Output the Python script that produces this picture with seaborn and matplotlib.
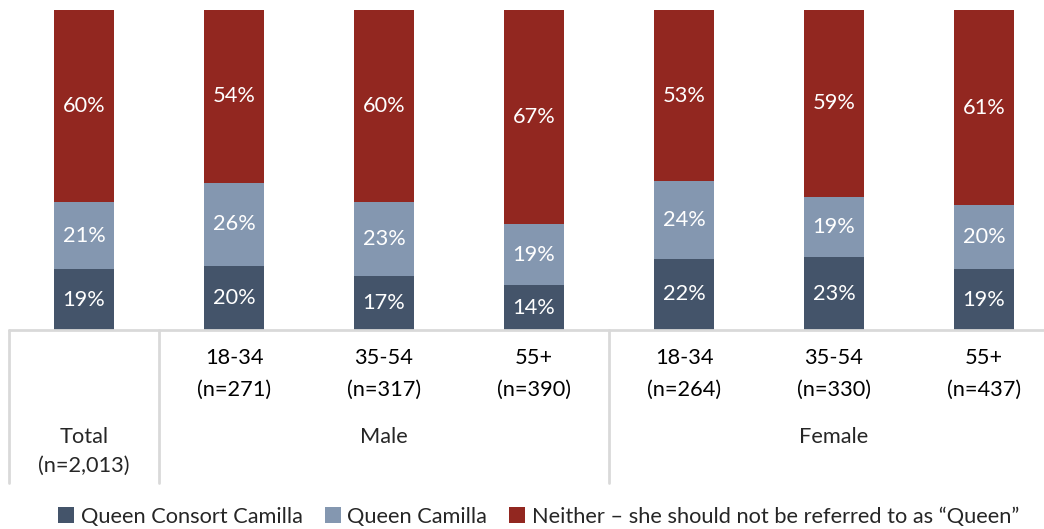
import matplotlib
matplotlib.use("Agg")
import matplotlib.pyplot as plt
import matplotlib.transforms as mtransforms
from matplotlib.patches import Patch
import numpy as np
import pandas as pd
import seaborn as sns

# Survey breakdown: how should Camilla be referred to?
categories = ["Total", "M 18-34", "M 35-54", "M 55+", "F 18-34", "F 35-54", "F 55+"]
age_labels = ["", "18-34", "35-54", "55+", "18-34", "35-54", "55+"]
sample_labels = ["", "(n=271)", "(n=317)", "(n=390)", "(n=264)", "(n=330)", "(n=437)"]
consort = [19, 20, 17, 14, 22, 23, 19]
queen = [21, 26, 23, 19, 24, 19, 20]
neither = [60, 54, 60, 67, 53, 59, 61]
series_names = ["Queen Consort Camilla", "Queen Camilla",
                "Neither \u2013 she should not be referred to as \u201cQueen\u201d"]
group_labels = ["Male", "Female"]
total_label = "Total\n(n=2,013)"

colors = ["#44546A", "#8497B0", "#922720"]
grid_gray = "#D9D9D9"
FS = 15.7

sns.set_theme(style="white")
plt.rcParams["font.family"] = ["Lato", "DejaVu Sans"]

df = pd.DataFrame({"cat": categories, "consort": consort,
                   "queen": queen, "neither": neither})
# 100% stacked: each bar is scaled to its own total
tot = df["consort"] + df["queen"] + df["neither"]
df["c1"] = df["consort"] / tot * 100
df["c2"] = (df["consort"] + df["queen"]) / tot * 100
df["c3"] = 100.0 * tot / tot

fig = plt.figure(figsize=(10.44, 5.29), dpi=100)
ax = fig.add_axes([9 / 1044, 199 / 529, 1050 / 1044, 320 / 529])

# stacked bars: draw cumulative totals from the top layer down
for col, color in zip(["c3", "c2", "c1"], colors[::-1]):
    sns.barplot(data=df, x="cat", y=col, color=color, width=0.4,
                saturation=1, ax=ax, edgecolor="none", linewidth=0)

ax.set_xlim(-0.5, 6.5)
ax.set_ylim(0, 100)
ax.set_xlabel("")
ax.set_ylabel("")
ax.set_xticks([])
ax.set_yticks([])
for s in ax.spines.values():
    s.set_visible(False)

# value labels in the middle of each segment
for i in range(len(categories)):
    lows = [0, df["c1"][i], df["c2"][i]]
    highs = [df["c1"][i], df["c2"][i], df["c3"][i]]
    vals = [consort[i], queen[i], neither[i]]
    for low, high, v in zip(lows, highs, vals):
        ax.text(i, (low + high) / 2, f"{v}%", ha="center", va="center",
                color="white", fontsize=FS)

# category axis: baseline, separators and labels
trans = mtransforms.blended_transform_factory(ax.transData, ax.transAxes)
ax.plot([-0.5, 6.5], [0, 0], color=grid_gray, lw=2, transform=trans, clip_on=False)
sep_bottom = -(483 - 330) / 320
for xs in [-0.5, 0.5, 3.5]:
    ax.plot([xs, xs], [0, sep_bottom], color=grid_gray, lw=2,
            transform=trans, clip_on=False)

def ypx(py):
    return -(py - 330) / 320

for i in range(1, len(categories)):
    ax.text(i, ypx(358), age_labels[i], ha="center", va="center",
            fontsize=FS, transform=trans, color="#000000")
    ax.text(i, ypx(390), sample_labels[i], ha="center", va="center",
            fontsize=FS, transform=trans, color="#000000")

tl1, tl2 = total_label.split("\n")
ax.text(0, ypx(437), tl1, ha="center", va="center", fontsize=FS, transform=trans)
ax.text(0, ypx(466), tl2, ha="center", va="center", fontsize=FS, transform=trans)
ax.text(2, ypx(437), group_labels[0], ha="center", va="center", fontsize=FS, transform=trans)
ax.text(5, ypx(437), group_labels[1], ha="center", va="center", fontsize=FS, transform=trans)

handles = [Patch(facecolor=c, edgecolor="none") for c in colors]
fig.legend(handles, series_names, loc="center", ncol=3, frameon=False,
           bbox_to_anchor=(0.516, (529 - 517) / 529), fontsize=FS,
           handlelength=0.75, handleheight=0.75, handletextpad=0.3,
           columnspacing=1.0, borderaxespad=0)

fig.savefig("out.png", dpi=100)
